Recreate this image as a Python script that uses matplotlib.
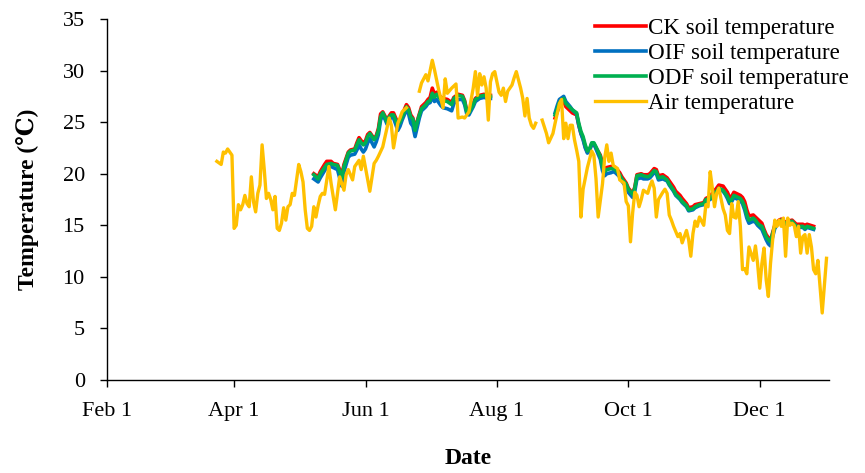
import numpy as np
import pandas as pd
import matplotlib
matplotlib.use('Agg')
import matplotlib.pyplot as plt

# days counted from 1 Feb; None marks a break in the record
start = pd.Timestamp('2019-02-01')

air_day = [51, 53, 54, 55, 56, 58, 59, 60, 61, 62, 63, 64, 65, 66, 67, 68, 69, 70, 71, 72,
           73, 74, 75, 76, 77, 78, 79, 80, 81, 82, 83, 84, 85, 86, 87, 89, 90, 91, 92, 93,
           94, 95, 96, 97, 98, 99, 100, 101, 103, 104, 106, 108, 110, 111, 112, 114, 115, 117, 118, 119,
           122, 124, 125, 126, 128, 131, 132, 133, 135, 136, 137, 139, 142,
           145, 146, 148, 149, 151, 152, 154, 156, 157, 158, 160, 162, 163, 165, 166, 168, 170, 171, 172, 173,
           174, 175, 176, 177, 178, 179, 180, 182, 183, 184, 185, 186, 187, 188, 189, 190, 191, 192, 193, 194,
           195, 196, 197, 198, 199, 200,
           202, 204, 205, 207, 208, 210, 211, 212, 213, 214, 215, 216, 217, 218, 219, 220, 221, 223, 225, 226,
           227, 228, 230, 231, 232, 233, 234, 235, 237, 238, 240, 241, 242, 243, 244, 245, 246, 247, 248, 249,
           251, 252, 253, 254, 255, 256, 258, 259, 260, 261, 262, 263, 265, 266, 267, 268, 269, 270, 271, 272,
           273, 274, 275, 277, 278, 279, 280, 281, 282, 283, 284, 286, 287, 288, 289, 290, 291, 292, 293, 294,
           295, 296, 297, 298, 300, 301, 302, 303, 304, 305, 306, 307, 308, 309, 310, 311, 312, 313, 314, 315,
           316, 317, 318, 319, 320, 321, 322, 323, 324, 325, 326, 327, 328, 329, 330, 332, 334]
air_temp = [21.2, 20.9, 22.1, 22.0, 22.4, 21.8, 14.7, 15.0, 17.0, 16.5, 17.0, 17.9, 17.1, 16.8, 19.7, 17.3, 16.3, 18.1, 18.9, 22.8,
            20.4, 17.6, 18.1, 17.5, 16.5, 17.8, 14.7, 14.5, 15.2, 16.7, 15.5, 16.8, 17.0, 18.1, 17.9, 20.9, 20.2, 19.2, 16.5, 14.7,
            14.5, 14.9, 16.8, 15.8, 16.9, 17.8, 18.1, 18.0, 20.7, 19.1, 16.5, 19.7, 18.4, 19.9, 20.4, 19.4, 20.7, 21.3, 20.4, 21.7,
            18.3, 21.0, 21.3, 21.7, 22.6, 25.4, 24.7, 22.5, 24.9, 25.4, 26.0, 26.4, None,
            28.0, 28.8, 29.6, 29.0, 31.0, 30.1, 28.1, 26.4, 29.2, 27.8, 28.3, 28.7, 25.4, 25.5, 25.4, 26.0, 28.3, 29.9, 27.6, 29.7,
            28.6, 29.4, 28.3, 25.2, 28.9, 29.7, 29.9, 27.9, 27.6, 28.3, 27.0, 28.0, 28.3, 28.6, 29.3, 29.9, 29.1, 28.3, 27.3, 25.6,
            27.3, 25.4, 24.7, 24.4, 24.9, None,
            25.2, 23.9, 23.0, 23.9, 24.9, 26.8, 27.2, 23.4, 24.9, 23.4, 24.7, 24.7, 23.3, 22.3, 21.2, 15.8, 18.5, 20.6, 22.2, 21.8,
            19.5, 15.8, 19.0, 21.5, 22.8, 21.2, 22.0, 20.8, 20.5, 19.4, 19.1, 17.3, 16.9, 13.4, 16.2, 18.2, 17.9, 16.8, 17.5, 18.4,
            18.1, 18.8, 19.3, 18.6, 15.8, 17.5, 18.2, 18.5, 18.1, 16.0, 15.5, 14.9, 13.9, 14.2, 13.3, 13.9, 14.5, 13.6, 12.0, 14.2,
            15.4, 14.9, 15.8, 15.0, 17.0, 16.8, 20.2, 18.6, 16.8, 18.1, 18.6, 16.6, 16.0, 14.5, 14.2, 17.1, 15.8, 15.7, 17.3, 14.9,
            10.7, 10.8, 10.3, 12.9, 11.6, 13.0, 11.3, 8.9, 11.3, 12.8, 9.7, 8.1, 11.3, 13.6, 15.5, 14.9, 15.5, 14.9, 15.7, 12.0,
            15.7, 15.0, 15.2, 15.0, 13.9, 14.9, 12.3, 13.9, 14.1, 12.3, 14.1, 12.9, 10.7, 10.3, 11.6, 6.5, 11.8]

soil_day = [96, 98, 99, 101, 102, 104, 105, 107, 108, 109, 110, 112, 113, 115, 116, 117, 118, 119, 120, 121,
            122, 124, 125, 126, 127, 128, 129, 130, 131, 132, 133, 135, 136, 137, 139, 140, 141, 142, 143, 144,
            145, 146, 148, 149, 150, 151, 152, 153, 155, 156, 158, 160, 161, 163, 165, 166, 167, 168, 170, 171,
            173, 175, 177, 178, 190,
            208, 209, 210, 212, 213, 215, 216, 218, 219, 220, 221, 222, 223, 224, 225, 226, 227, 229, 230, 231,
            232, 234, 235, 236, 238, 239, 241, 242, 244, 245, 246, 248, 249, 251, 252, 254, 255, 256, 258, 260,
            261, 263, 264, 266, 267, 269, 270, 272, 273, 275, 277, 278, 280, 281, 283, 284, 286, 287, 288, 289,
            290, 291, 292, 294, 295, 296, 297, 298, 300, 301, 302, 303, 304, 305, 306, 307, 308, 309, 310, 312,
            313, 315, 318, 320, 323, 324, 325, 328]

ck_soil = [20.0, 19.7, 20.2, 20.9, 21.2, 21.2, 21.0, 20.9, 20.4, 19.8, 20.9, 22.1, 22.3, 22.4, 23.0, 23.5, 23.2, 23.0, 23.2, 23.8,
           24.0, 23.4, 23.7, 24.4, 25.8, 26.0, 25.6, 25.1, 25.6, 25.9, 25.9, 24.9, 25.1, 25.7, 26.7, 26.4, 25.7, 25.4, 24.3, 25.1,
           25.8, 26.5, 26.9, 27.2, 27.4, 28.3, 27.7, 27.9, 27.4, 27.3, 27.2, 26.9, 27.4, 27.7, 27.6, 27.1, 26.1, 26.0, 26.8, 27.3,
           27.6, 27.7, 27.6, 27.6, None,
           25.4, 26.0, 26.6, 27.0, 26.5, 26.1, 25.9, 25.7, 24.7, 23.9, 23.4, 22.6, 22.1, 22.3, 22.9, 22.9, 22.5, 21.8, 20.9, 20.4,
           20.6, 20.7, 20.7, 20.6, 20.1, 19.7, 19.1, 18.6, 18.1, 18.7, 19.9, 20.0, 19.9, 19.9, 20.0, 20.5, 20.4, 19.8, 19.9, 19.6,
           19.3, 18.7, 18.3, 17.9, 17.6, 17.1, 16.7, 16.8, 17.0, 17.1, 17.2, 17.6, 17.8, 18.1, 18.6, 18.9, 18.8, 18.5, 18.2, 17.7,
           17.8, 18.2, 18.1, 17.9, 17.7, 17.3, 16.5, 15.9, 16.0, 15.8, 15.6, 15.4, 15.2, 14.6, 14.1, 13.8, 13.5, 14.3, 15.0, 15.5,
           15.6, 15.3, 15.5, 15.1, 15.1, 15.0, 15.1, 14.9]
oif_soil = [19.5, 19.2, 19.6, 20.3, 20.6, 20.7, 20.6, 20.4, 19.6, 18.8, 20.2, 21.6, 21.8, 21.9, 22.3, 22.8, 22.4, 22.1, 22.4, 23.0,
            23.4, 22.6, 23.1, 23.8, 25.2, 25.7, 25.3, 24.8, 25.2, 25.5, 25.4, 24.2, 24.6, 25.2, 26.2, 25.8, 24.9, 24.6, 23.6, 24.5,
            25.4, 26.1, 26.5, 26.8, 26.9, 27.5, 27.0, 27.2, 26.6, 26.4, 26.3, 26.1, 26.8, 27.2, 27.2, 26.7, 25.8, 25.7, 26.5, 27.0,
            27.3, 27.4, 27.3, 27.3, None,
            25.9, 26.6, 27.2, 27.5, 27.0, 26.5, 26.2, 25.8, 24.7, 23.9, 23.3, 22.5, 22.0, 22.2, 22.9, 22.9, 22.4, 21.4, 20.3, 19.8,
            20.0, 20.1, 20.2, 20.1, 19.7, 19.3, 18.7, 18.2, 17.7, 18.3, 19.5, 19.6, 19.5, 19.5, 19.6, 20.1, 20.0, 19.4, 19.5, 19.3,
            18.9, 18.3, 17.9, 17.5, 17.2, 16.8, 16.4, 16.5, 16.7, 16.9, 17.0, 17.4, 17.5, 17.8, 18.2, 18.5, 18.3, 18.0, 17.6, 17.1,
            17.3, 17.7, 17.6, 17.4, 17.1, 16.5, 15.7, 15.2, 15.4, 15.3, 15.0, 14.8, 14.6, 14.1, 13.6, 13.2, 13.0, 13.9, 14.7, 15.3,
            15.4, 15.1, 15.3, 14.8, 14.8, 14.6, 14.8, 14.6]
odf_soil = [19.9, 19.5, 20.0, 20.6, 20.9, 21.0, 20.9, 20.8, 20.2, 19.6, 20.7, 22.0, 22.2, 22.3, 22.8, 23.3, 23.0, 22.8, 23.0, 23.6,
            23.9, 23.3, 23.6, 24.2, 25.5, 25.9, 25.5, 25.0, 25.5, 25.7, 25.7, 24.7, 25.0, 25.5, 26.5, 26.2, 25.5, 25.3, 24.2, 25.0,
            25.7, 26.3, 26.7, 27.0, 27.1, 27.8, 27.4, 27.7, 27.2, 27.1, 27.0, 26.7, 27.3, 27.6, 27.5, 27.0, 26.0, 25.9, 26.7, 27.2,
            27.5, 27.6, 27.5, 27.5, None,
            25.7, 26.3, 26.9, 27.3, 26.8, 26.4, 26.2, 25.9, 24.9, 24.1, 23.6, 22.8, 22.2, 22.4, 23.0, 23.0, 22.6, 21.7, 20.7, 20.2,
            20.4, 20.5, 20.5, 20.4, 19.9, 19.5, 19.0, 18.5, 18.0, 18.6, 19.8, 19.9, 19.8, 19.7, 19.8, 20.3, 20.2, 19.6, 19.7, 19.4,
            19.0, 18.4, 18.0, 17.6, 17.3, 16.9, 16.5, 16.6, 16.8, 17.0, 17.1, 17.5, 17.6, 17.9, 18.3, 18.6, 18.4, 18.1, 17.8, 17.3,
            17.5, 17.9, 17.8, 17.6, 17.3, 16.8, 16.0, 15.5, 15.7, 15.5, 15.2, 15.0, 14.9, 14.4, 13.9, 13.6, 13.4, 14.2, 14.9, 15.4,
            15.5, 15.2, 15.4, 14.9, 14.9, 14.7, 14.9, 14.7]

tick_dates = ['2019-02-01', '2019-04-01', '2019-06-01', '2019-08-01', '2019-10-01', '2019-12-01']
tick_labels = ['Feb 1', 'Apr 1', 'Jun 1', 'Aug 1', 'Oct 1', 'Dec 1']


def to_dates(days):
    return start + pd.to_timedelta(days, unit='D')


def to_values(vals):
    return np.array([np.nan if v is None else v for v in vals], dtype=float)


plt.rcParams['font.family'] = ['Liberation Serif', 'DejaVu Serif']

fig = plt.figure(figsize=(8.65, 4.73), dpi=100)
ax = fig.add_axes([0.1237, 0.1966, 0.8343, 0.7632])

soil_x = to_dates(soil_day)
ax.plot(soil_x, to_values(ck_soil), color='#FF0000', lw=2.6, label='CK soil temperature')
ax.plot(soil_x, to_values(oif_soil), color='#0070C0', lw=2.6, label='OIF soil temperature')
ax.plot(soil_x, to_values(odf_soil), color='#00B050', lw=2.6, label='ODF soil temperature')
ax.plot(to_dates(air_day), to_values(air_temp), color='#FFC000', lw=2.4, label='Air temperature')

ax.set_xlim(pd.Timestamp('2019-02-01'), pd.Timestamp('2020-01-02'))
ax.set_ylim(0, 35)
ax.set_yticks(np.arange(0, 36, 5))
ax.set_xticks(pd.to_datetime(tick_dates))
ax.set_xticklabels(tick_labels)

for s in ['top', 'right']:
    ax.spines[s].set_visible(False)
for s in ['left', 'bottom']:
    ax.spines[s].set_linewidth(1.0)
ax.tick_params(direction='out', length=5, width=1.0, labelsize=16)
ax.tick_params(axis='y', pad=11)
ax.tick_params(axis='x', pad=11)

ax.set_xlabel('Date', fontsize=17, fontweight='bold', labelpad=19)
ax.set_ylabel('Temperature (℃)', fontsize=17, fontweight='bold', labelpad=17)

fig.legend(loc='upper left', bbox_to_anchor=(0.688, 0.962), frameon=False, fontsize=16.6,
           handlelength=2.2, handletextpad=0.1, labelspacing=0.16, borderpad=0, borderaxespad=0)

fig.savefig('out.png', dpi=100)
